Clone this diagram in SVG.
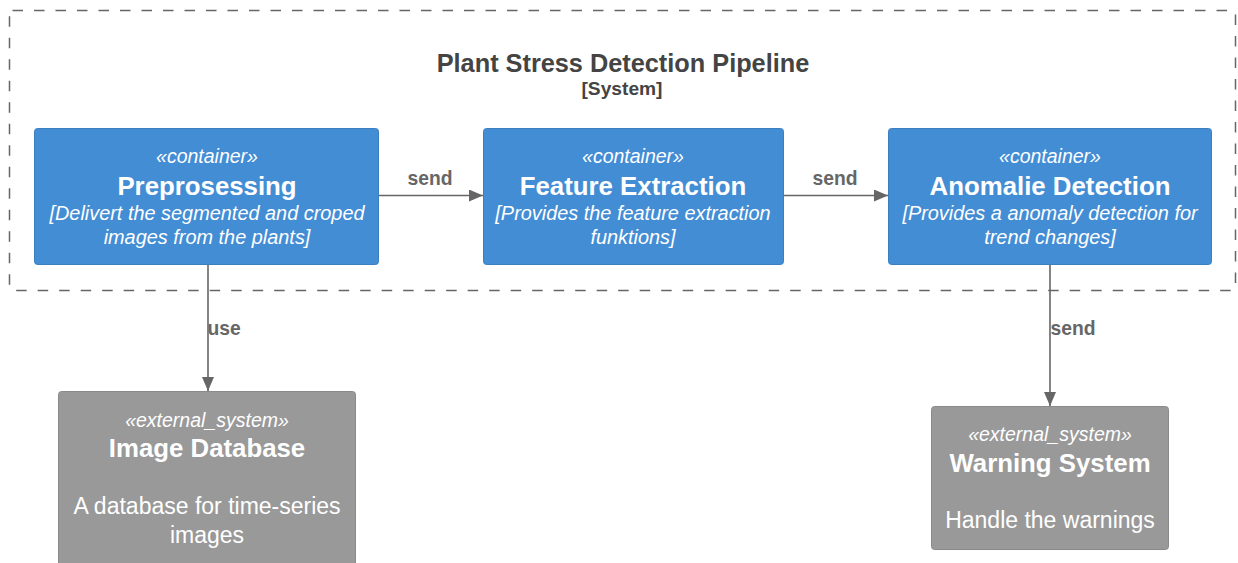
<svg xmlns="http://www.w3.org/2000/svg" width="1238" height="563" viewBox="0 0 1238 563">
<defs>
<style>
text{font-family:"Liberation Sans",Arial,sans-serif;text-anchor:middle}
.cont{fill:#438DD5;stroke:#3C7FC0;stroke-width:1}
.ext{fill:#999999;stroke:#8A8A8A;stroke-width:1}
.st{font-size:19.5px;font-style:italic;fill:#FFFFFF}
.nm{font-size:25.8px;font-weight:bold;fill:#FFFFFF}
.ds{font-size:19.9px;font-style:italic;fill:#FFFFFF}
.dx{font-size:23px;fill:#FFFFFF}
.lbl{font-size:19.3px;font-weight:bold;fill:#666666}
.edge{stroke:#666666;stroke-width:1.6;fill:none}
</style>
<marker id="arr" viewBox="0 0 14 12" refX="14" refY="6" markerWidth="14" markerHeight="12" markerUnits="userSpaceOnUse" orient="auto">
<path d="M0,0 L14,6 L0,12 Z" fill="#666666"/>
</marker>
</defs>
<rect width="1238" height="563" fill="#FFFFFF"/>
<g id="boundary">
<rect x="9.5" y="10.5" width="1226" height="280" rx="3" fill="none" stroke="#666666" stroke-width="1.5" stroke-dasharray="10.5 11"/>
<text x="623" y="72" style="font-size:25.3px;font-weight:bold;fill:#444444">Plant Stress Detection Pipeline</text>
<text x="622" y="95" style="font-size:19.2px;font-weight:bold;fill:#444444">[System]</text>
</g>
<g id="connectors">
<line class="edge" x1="379" y1="195.5" x2="483" y2="195.5" marker-end="url(#arr)"/>
<text class="lbl" x="430" y="185">send</text>
<line class="edge" x1="784" y1="195.5" x2="888" y2="195.5" marker-end="url(#arr)"/>
<text class="lbl" x="835" y="185">send</text>
<line class="edge" x1="208" y1="265" x2="208" y2="391" marker-end="url(#arr)"/>
<text class="lbl" x="224" y="335">use</text>
<line class="edge" x1="1050" y1="265" x2="1050" y2="406" marker-end="url(#arr)"/>
<text class="lbl" x="1073" y="335">send</text>
</g>
<g id="preprocessing">
<rect class="cont" x="34.5" y="128.5" width="344" height="136" rx="3"/>
<text class="st" x="207" y="163">«container»</text>
<text class="nm" x="207" y="195">Preprosessing</text>
<text class="ds" x="207" y="220">[Delivert the segmented and croped</text>
<text class="ds" x="207" y="244">images from the plants]</text>
</g>
<g id="feature-extraction">
<rect class="cont" x="483.5" y="128.5" width="300" height="136" rx="3"/>
<text class="st" x="633" y="163">«container»</text>
<text class="nm" x="633" y="195">Feature Extraction</text>
<text class="ds" x="633" y="220">[Provides the feature extraction</text>
<text class="ds" x="633" y="244">funktions]</text>
</g>
<g id="anomalie-detection">
<rect class="cont" x="888.5" y="128.5" width="323" height="136" rx="3"/>
<text class="st" x="1050" y="163">«container»</text>
<text class="nm" x="1050" y="195">Anomalie Detection</text>
<text class="ds" x="1050" y="220">[Provides a anomaly detection for</text>
<text class="ds" x="1050" y="244">trend changes]</text>
</g>
<g id="image-database">
<rect class="ext" x="58.5" y="391.5" width="297" height="176" rx="3"/>
<text class="st" x="207" y="427">«external_system»</text>
<text class="nm" x="207" y="457">Image Database</text>
<text class="dx" x="207" y="514">A database for time-series</text>
<text class="dx" x="207" y="543">images</text>
</g>
<g id="warning-system">
<rect class="ext" x="931.5" y="406.5" width="237" height="143" rx="3"/>
<text class="st" x="1050" y="441">«external_system»</text>
<text class="nm" x="1050" y="472">Warning System</text>
<text class="dx" x="1050" y="528">Handle the warnings</text>
</g>
</svg>
